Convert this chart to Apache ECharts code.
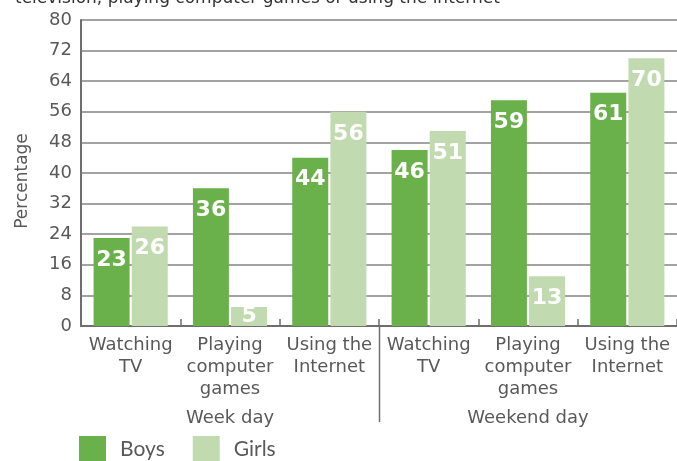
<!DOCTYPE html>
<html>
<head>
<meta charset="utf-8">
<script src="https://cdn.jsdelivr.net/npm/echarts@6/dist/echarts.min.js"></script>
<style>
  html, body { margin: 0; padding: 0; background: #fff; }
  #chart { width: 677px; height: 461px; }
</style>
</head>
<body>
<div id="chart"></div>
<script>
// Activities, grouped by day type
const activities = [
  'Watching\nTV', 'Playing\ncomputer\ngames', 'Using the\nInternet',
  'Watching\nTV', 'Playing\ncomputer\ngames', 'Using the\nInternet'
];
const dayTypes = ['Week day', 'Weekend day'];

// Percentage of children per activity
const boys = [23, 36, 44, 46, 59, 61];
const girls = [26, 5, 56, 51, 13, 70];

const yTicks = { min: 0, max: 80, interval: 8 };

const BOYS_COLOR = '#6ab14b';
const GIRLS_COLOR = '#c2dab0';
const TEXT_COLOR = '#595959';
const LINE_COLOR = '#6e6e6e';
const FONT = '"DejaVu Sans", Verdana, sans-serif';

const valueLabel = {
  show: true,
  position: 'insideTop',
  distance: 11,
  color: '#ffffff',
  fontFamily: FONT,
  fontWeight: 'bold',
  fontSize: 22
};

// Very short bars get their label centred in the bar instead
function toBarData(values) {
  return values.map(v => v < 8
    ? { value: v, label: { position: 'inside', distance: 0 } }
    : v);
}

const chart = echarts.init(document.getElementById('chart'), null, { renderer: 'canvas' });

chart.setOption({
  animation: false,
  backgroundColor: '#ffffff',
  title: {
    text: 'television, playing computer games or using the internet',
    left: 10,
    top: -15,
    textStyle: { fontFamily: FONT, fontSize: 17, fontWeight: 'normal', color: '#333' }
  },
  grid: { left: 81, top: 20, width: 598, height: 306, containLabel: false },
  legend: {
    left: 79,
    top: 436,
    padding: 0,
    itemWidth: 27,
    itemHeight: 26,
    itemGap: 28,
    icon: 'rect',
    textStyle: { fontFamily: 'Lato, sans-serif', fontSize: 21, color: TEXT_COLOR, padding: [0, 0, 0, 9] },
    data: ['Boys', 'Girls']
  },
  xAxis: [
    {
      type: 'category',
      data: activities,
      position: 'bottom',
      axisLine: { lineStyle: { color: LINE_COLOR, width: 2 } },
      axisTick: { show: true, inside: true, length: 7, lineStyle: { color: LINE_COLOR, width: 1.5 } },
      axisLabel: {
        interval: 0,
        margin: 8,
        fontFamily: FONT,
        fontSize: 18,
        lineHeight: 22,
        color: TEXT_COLOR
      }
    },
    {
      type: 'category',
      data: dayTypes,
      position: 'bottom',
      gridIndex: 0,
      axisLine: { show: false },
      axisTick: { show: false },
      axisLabel: {
        margin: 83,
        fontFamily: FONT,
        fontSize: 18,
        color: TEXT_COLOR
      }
    }
  ],
  yAxis: {
    type: 'value',
    min: yTicks.min,
    max: yTicks.max,
    interval: yTicks.interval,
    name: 'Percentage',
    nameLocation: 'middle',
    nameGap: 50,
    nameRotate: 90,
    nameTextStyle: { fontFamily: FONT, fontSize: 17, color: TEXT_COLOR, padding: [0, 16, 0, 0] },
    axisLine: { show: true, lineStyle: { color: LINE_COLOR, width: 2 } },
    axisTick: { show: false },
    axisLabel: { margin: 9, fontFamily: FONT, fontSize: 18, color: TEXT_COLOR },
    splitLine: { show: true, lineStyle: { color: '#a3a3a3', width: 2 } }
  },
  series: [
    {
      name: 'Boys',
      type: 'bar',
      xAxisIndex: 0,
      data: toBarData(boys),
      barWidth: 36,
      barGap: '6%',
      itemStyle: { color: BOYS_COLOR },
      label: valueLabel
    },
    {
      name: 'Girls',
      type: 'bar',
      xAxisIndex: 0,
      data: toBarData(girls),
      barWidth: 36,
      barGap: '6%',
      itemStyle: { color: GIRLS_COLOR },
      label: valueLabel
    }
  ]
});

// Divider between the week-day and weekend-day groups, placed at the
// boundary between the two day-type bands of the secondary axis
const groupStart = chart.convertToPixel({ xAxisIndex: 1 }, 0);
const groupEnd = chart.convertToPixel({ xAxisIndex: 1 }, 1);
const dividerX = Math.round((groupStart + groupEnd) / 2) + 0.5;
const baseY = chart.convertToPixel({ yAxisIndex: 0 }, 0);
chart.setOption({
  graphic: [{
    type: 'line',
    shape: { x1: dividerX, y1: baseY, x2: dividerX, y2: baseY + 96 },
    style: { stroke: LINE_COLOR, lineWidth: 1.5 },
    silent: true
  }]
});
</script>
</body>
</html>
